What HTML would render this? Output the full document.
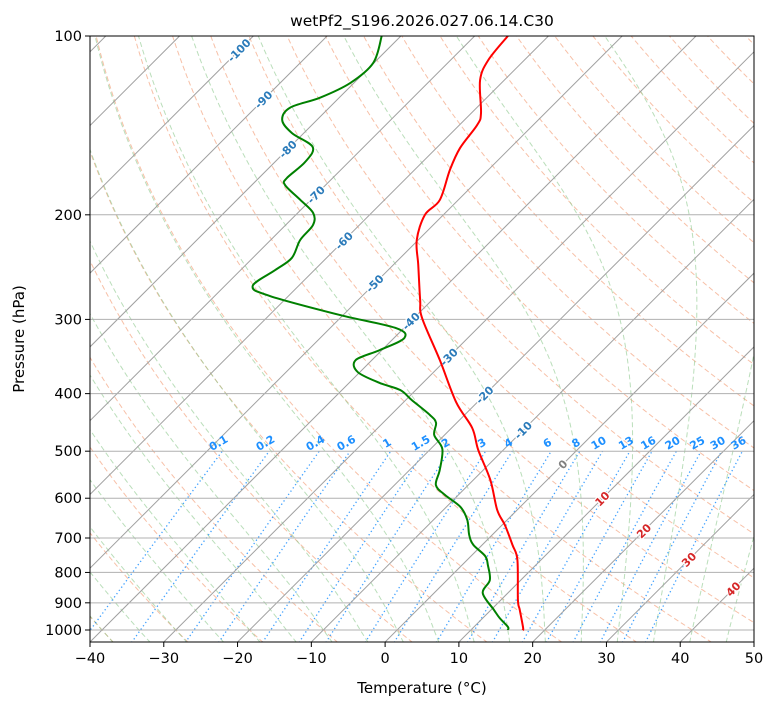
<!DOCTYPE html>
<html><head><meta charset="utf-8"><style>
body{margin:0;background:#fff;}
svg{display:block;font-family:"DejaVu Sans","Liberation Sans",sans-serif;}
</style></head><body>
<svg id="chart" width="775" height="708" viewBox="0 0 775 708" xmlns="http://www.w3.org/2000/svg">
<defs><clipPath id="clip"><rect x="90" y="36" width="664" height="606"/></clipPath></defs>
<rect x="0" y="0" width="775" height="708" fill="#fff"/>
<g id="grid" clip-path="url(#clip)"></g>
<g id="series" clip-path="url(#clip)"></g>
<g id="labels"></g>
<rect x="90" y="36" width="664" height="606" fill="none" stroke="#000" stroke-width="1"/>
<g id="axes"></g>
<text x="422" y="26" text-anchor="middle" font-size="15.5">wetPf2_S196.2026.027.06.14.C30</text>
<text x="422" y="693" text-anchor="middle" font-size="15">Temperature (°C)</text>
<text x="24" y="339" text-anchor="middle" font-size="15" transform="rotate(-90 24 339)">Pressure (hPa)</text>
</svg>
<script>
// ---- data ----
const tempP = [100,109.7,118.6,134.8,141.2,154.4,168.1,188.8,200.1,220.5,243,278.3,298.4,351.2,413.3,457,497.7,559,628,666,719,762,890,925,992,1000];
const tempT = [-65.5,-64.9,-63.3,-58.7,-57.6,-56.8,-55.2,-52.5,-52.5,-50.2,-46.6,-41.6,-38.9,-30.8,-22.9,-17.2,-13.4,-7.7,-2.7,0.4,4.1,6.8,12.3,13.9,16.8,17.0];
const dewP = [100,111,120,127,132,138.5,145.7,153.8,163,173.5,178.2,188.8,198.6,208,220.5,236.4,247.7,263.6,274,295,310,322.3,337.9,351.2,367.9,383.9,394.5,410,434.5,448,469.6,495.8,538,570,592.6,620.6,652.8,692,719,750.6,777.5,824,866.6,925,955,988,1000];
const dewT = [-82.6,-80.1,-80.5,-82.6,-85.3,-84.7,-81.6,-76.9,-75.9,-76.2,-75.5,-71.4,-67.9,-66.3,-66,-64.7,-65.3,-66.2,-62.5,-50.4,-41.2,-38.6,-40.3,-42.2,-40.3,-35.8,-32.1,-29.2,-24.7,-22.8,-21.4,-18.4,-15.9,-14.4,-11.8,-8.1,-5.4,-3.1,-1.2,1.9,3.5,5.8,6.6,10.4,12.3,14.6,15.0];
const xTicks = [-40,-30,-20,-10,0,10,20,30,40,50];
const yTicks = [100,200,300,400,500,600,700,800,900,1000];
const mixRatios = [0.1,0.2,0.4,0.6,1,1.5,2,3,4,6,8,10,13,16,20,25,30,36];
const isoLabelT = [-100,-90,-80,-70,-60,-50,-40,-30,-20,-10,0,10,20,30,40];
const isoLabelP = [105.7,128,155,185,221,261,302,347,402,461,526,601,681,761,853];

// ---- axes ----
const X0=90,X1=754,Y0=36,Y1=642,PX=(X1-X0)/90;
function yP(p){return 36+594*(Math.log10(p)-2);}
function xT(t,p){const y=yP(p);return X0+(t+40)*PX+(Y1-y);}
const NS='http://www.w3.org/2000/svg';
function mk(tag,attrs,parent){const e=document.createElementNS(NS,tag);for(const k in attrs)e.setAttribute(k,attrs[k]);parent.appendChild(e);return e;}
const grid=document.getElementById('grid'),series=document.getElementById('series'),labels=document.getElementById('labels'),axes=document.getElementById('axes');
const pTop=100,pBot=1050;
function pathFor(fnT,p0,p1,n){let d='';for(let i=0;i<=n;i++){const p=p0*Math.pow(p1/p0,i/n);const x=xT(fnT(p),p),y=yP(p);d+=(i?'L':'M')+x.toFixed(2)+' '+y.toFixed(2);}return d;}

// dry adiabats
for(let t0=-100;t0<=220;t0+=10){
  const th=t0+273.15;
  const el=mk('path',{d:pathFor(p=>th*Math.pow(p/1000,0.2857)-273.15,pBot,pTop,60),fill:'none',stroke:'#f4a582','stroke-opacity':'0.7','stroke-width':'1','stroke-dasharray':'5,3'},grid);
  
  
}
// moist adiabats
function es(t){return 6.112*Math.exp(17.67*t/(t+243.5));}
function dTdp(p,T){const t=T-273.15;const e=es(t);const rs=0.622*e/(p-e);const Rd=287,Lv=2.5e6,cp=1005;return (1/p)*(Rd*T+Lv*rs)/(cp+Lv*Lv*rs*0.622/(Rd*T*T));}
for(let t0=-40;t0<=45;t0+=5){
  let T=t0+273.15,p=1000;const pts=[];
  const T2=T+dTdp(p,T)*50;
  pts.push([1050,T2]);pts.push([p,T]);
  const h=-5;
  while(p>pTop){const k1=dTdp(p,T),k2=dTdp(p+h/2,T+h/2*k1),k3=dTdp(p+h/2,T+h/2*k2),k4=dTdp(p+h,T+h*k3);T+=h/6*(k1+2*k2+2*k3+k4);p+=h;pts.push([p,T]);}
  let d='';pts.forEach((q,i)=>{d+=(i?'L':'M')+xT(q[1]-273.15,q[0]).toFixed(2)+' '+yP(q[0]).toFixed(2);});
  const el=mk('path',{d:d,fill:'none',stroke:'#8cc88c','stroke-opacity':'0.6','stroke-width':'1','stroke-dasharray':'5,3'},grid);
  
  
}
// mixing ratio lines
function tdFromW(w,p){const r=w/1000;const e=p*r/(0.622+r);const l=Math.log(e/6.112);return 243.5*l/(17.67-l);}
mixRatios.forEach(w=>{
  const el=mk('path',{d:pathFor(p=>tdFromW(w,p),pBot,500,20),fill:'none',stroke:'#1e90ff','stroke-opacity':'0.85','stroke-width':'1.3','stroke-dasharray':'1.3,2.7'},grid);
  
  
  const x=xT(tdFromW(w,500),500)-2,y=yP(500)-5;
  const t=mk('text',{x:x.toFixed(1),y:y.toFixed(1),'text-anchor':'middle','font-size':'11','font-weight':'bold',fill:'#1e90ff',transform:`rotate(-30 ${x.toFixed(1)} ${y.toFixed(1)})`},labels);
  t.textContent=String(w);
  
  
});
// isotherms
for(let t=-160;t<=50;t+=10){
  const el=mk('line',{x1:xT(t,pBot),y1:yP(pBot),x2:xT(t,pTop),y2:yP(pTop),stroke:'#a0a0a0','stroke-width':'1'},grid);
  
  
}
// isobars
yTicks.forEach(p=>{
  const el=mk('line',{x1:X0,x2:X1,y1:yP(p),y2:yP(p),stroke:'#b0b0b0','stroke-width':'1'},grid);
  
  
});
// isotherm labels
isoLabelT.forEach((t,i)=>{
  const p=isoLabelP[i];const x=xT(t,p),y=yP(p);
  const col=t<0?'#2b7bba':(t===0?'#808080':'#d62728');
  const el=mk('text',{x:x.toFixed(1),y:(y+4).toFixed(1),'text-anchor':'middle','font-size':'11','font-weight':'bold',fill:col,stroke:'#fff','stroke-width':'2.5','paint-order':'stroke',transform:`rotate(-45 ${x.toFixed(1)} ${y.toFixed(1)})`},series);
  el.textContent=String(t);
  
  
});
// series (smooth Catmull-Rom)
function curve(P,T,color,name){
  const pts=P.map((p,i)=>[xT(T[i],p),yP(p)]);
  let d='M'+pts[0][0].toFixed(2)+' '+pts[0][1].toFixed(2);
  for(let i=0;i<pts.length-1;i++){
    const p0=pts[Math.max(0,i-1)],p1=pts[i],p2=pts[i+1],p3=pts[Math.min(pts.length-1,i+2)];
    const c1=[p1[0]+(p2[0]-p0[0])/6,p1[1]+(p2[1]-p0[1])/6],c2=[p2[0]-(p3[0]-p1[0])/6,p2[1]-(p3[1]-p1[1])/6];
    d+='C'+c1[0].toFixed(2)+' '+c1[1].toFixed(2)+' '+c2[0].toFixed(2)+' '+c2[1].toFixed(2)+' '+p2[0].toFixed(2)+' '+p2[1].toFixed(2);
  }
  const el=mk('path',{d:d,fill:'none',stroke:color,'stroke-width':'2','stroke-linejoin':'round'},series);
  
  }
curve(dewP,dewT,'#008000','dewpoint-line');
curve(tempP,tempT,'#ff0000','temperature-line');
// ticks
xTicks.forEach(t=>{
  const x=X0+(t+40)*PX;
  const tk=mk('line',{x1:x,x2:x,y1:Y1,y2:Y1+5,stroke:'#000'},axes);
  
  
  const tx=mk('text',{x:x,y:Y1+21,'text-anchor':'middle','font-size':'14.5'},axes);
  tx.textContent=(t<0?'\u2212':'')+Math.abs(t);
  
  
});
yTicks.forEach(p=>{
  const y=yP(p);
  const tk=mk('line',{x1:X0-5,x2:X0,y1:y,y2:y,stroke:'#000'},axes);
  
  
  const tx=mk('text',{x:X0-8,y:y+5,'text-anchor':'end','font-size':'14.5'},axes);
  tx.textContent=String(p);
  
  
});
</script>
</body></html>
